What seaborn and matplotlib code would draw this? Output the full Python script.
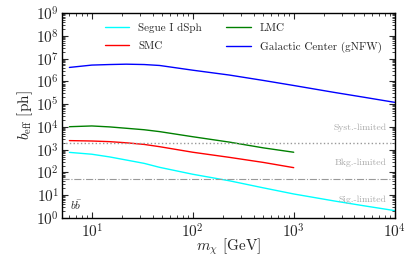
import numpy as np
import pandas as pd
import matplotlib
matplotlib.use("Agg")
import matplotlib.pyplot as plt
import seaborn as sns
from matplotlib.ticker import LogLocator, NullFormatter

# ---- data ----
mass_full = [6, 10, 15, 22, 33, 47, 100, 230, 500, 1000, 2500, 5000, 10000]
mass_mc = [6, 10, 15, 22, 33, 47, 100, 230, 500, 1000]
segue = [760, 630, 480, 350, 250, 167, 83, 43, 21, 11.3, 5.6, 3.4, 2.1]
smc = [2500, 2400, 2250, 2000, 1700, 1350, 770, 460, 275, 162]
lmc = [10200, 11000, 10000, 8700, 7500, 6200, 3700, 2150, 1200, 770]
gc = [4.1e6, 5.2e6, 5.5e6, 5.7e6, 5.5e6, 5.0e6, 3.1e6, 1.9e6, 1.1e6, 6.6e5,
      3.3e5, 2.0e5, 1.2e5]
syst_level = 2000
bkg_level = 50

series_names = ["Segue I dSph", "SMC", "LMC", "Galactic Center (gNFW)"]
colors = {"Segue I dSph": "cyan", "SMC": "red", "LMC": "green",
          "Galactic Center (gNFW)": "blue"}

df = pd.concat([
    pd.DataFrame({"m": mass_full, "b": segue, "s": "Segue I dSph"}),
    pd.DataFrame({"m": mass_mc, "b": smc, "s": "SMC"}),
    pd.DataFrame({"m": mass_mc, "b": lmc, "s": "LMC"}),
    pd.DataFrame({"m": mass_full, "b": gc, "s": "Galactic Center (gNFW)"}),
])

sns.set_style("ticks")
plt.rcParams["font.family"] = "serif"
plt.rcParams["font.serif"] = ["cmr10", "DejaVu Serif"]
plt.rcParams["mathtext.fontset"] = "cm"
plt.rcParams["axes.formatter.use_mathtext"] = True
plt.rcParams["axes.unicode_minus"] = False

fig = plt.figure(figsize=(4.15, 2.57), dpi=100)
ax = fig.add_axes([0.149, 0.152, 0.802, 0.797])

sns.lineplot(data=df, x="m", y="b", hue="s", hue_order=series_names,
             palette=colors, ax=ax, linewidth=1.0, sort=True, legend=True)

ax.axhline(syst_level, color="#999999", ls=":", lw=1.0)
ax.axhline(bkg_level, color="#999999", ls="-.", lw=0.8)

ax.set_xscale("log")
ax.set_yscale("log")
ax.set_xlim(5.05, 1e4)
ax.set_ylim(1, 1e9)
ax.yaxis.set_major_locator(LogLocator(base=10, numticks=20))
ax.yaxis.set_minor_locator(LogLocator(base=10, subs=np.arange(2, 10), numticks=20))
ax.yaxis.set_minor_formatter(NullFormatter())

ax.set_xlabel(r"$m_\chi$ [GeV]", fontsize=11, labelpad=-3)
ax.set_ylabel(r"$b_{\rm eff}$ [ph]", fontsize=11, labelpad=1)

ax.tick_params(which="both", direction="in", top=True, right=True)
ax.tick_params(which="major", length=4, width=0.8, labelsize=11)
ax.tick_params(axis="x", which="major", pad=3)
ax.tick_params(axis="y", which="major", pad=2)
ax.tick_params(which="minor", length=2, width=0.6)
for sp in ax.spines.values():
    sp.set_linewidth(1.0)
    sp.set_color("black")

tc = "#aaaaaa"
ax.text(8300, 5.8e3, "Syst.-limited", color=tc, fontsize=7, ha="right", va="bottom")
ax.text(8300, 260, "Bkg.-limited", color=tc, fontsize=7, ha="right", va="center")
ax.text(8300, 6.2, "Sig.-limited", color=tc, fontsize=7, ha="right", va="center")
ax.text(0.025, 0.03, r"$b\bar{b}$", transform=ax.transAxes, fontsize=8,
        ha="left", va="bottom")

h, l = ax.get_legend_handles_labels()
ax.legend(h, l, ncol=2, loc="upper center", bbox_to_anchor=(0.545, 1.0),
          frameon=False, fontsize=8, handlelength=2.2, columnspacing=2.2,
          labelspacing=0.75, title=None)

fig.savefig("out.png", dpi=100)
